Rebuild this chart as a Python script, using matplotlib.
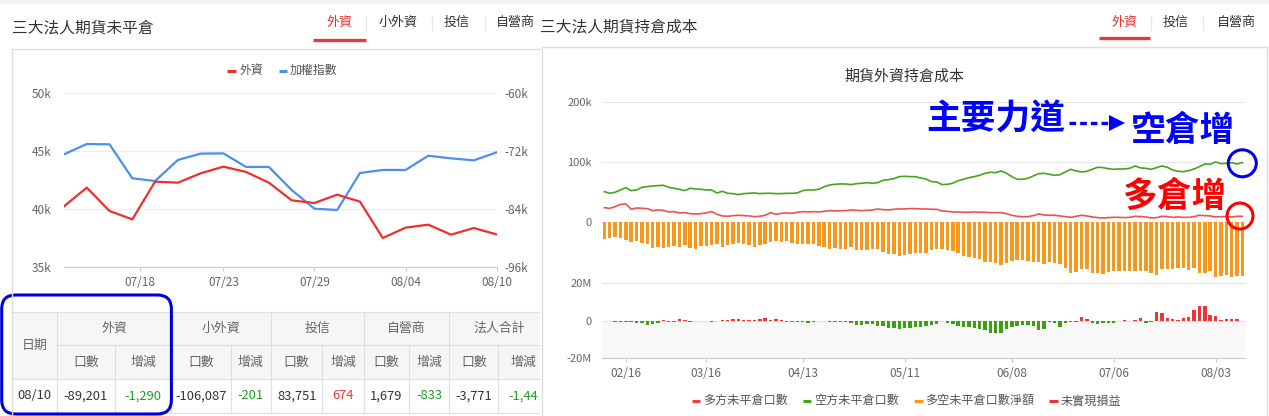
import numpy as np
import matplotlib
matplotlib.use('Agg')
import matplotlib.pyplot as plt
from matplotlib.patches import Rectangle, FancyBboxPatch, Ellipse
from matplotlib.ticker import FuncFormatter

plt.rcParams['font.family'] = ['Noto Sans CJK TC', 'DejaVu Sans']

# ---- left chart: 外資未平倉 vs 加權指數 ----
left_dates = ['07/18', '07/23', '07/29', '08/04', '08/10']
left_tick_pos = [3.35, 7, 11, 15, 19]
taiex = [44740, 45630, 45600, 42670, 42440, 44250, 44800, 44820, 43650, 43650,
         41660, 40050, 39940, 43130, 43390, 43390, 44620, 44390, 44220, 44910]
foreign_oi = [-83390, -79520, -84350, -86080, -78280, -78490, -76560, -75180, -76280, -78490,
              -82150, -82700, -80970, -82420, -89940, -87800, -87180, -89250, -87870, -89201]

# ---- table under the left chart ----
table_date = '08/10'
table_groups = ['外資', '小外資', '投信', '自營商', '法人合計']
table_oi = [-89201, -106087, 83751, 1679, -3771]
table_chg = ['-1,290', '-201', '674', '-833', '-1,44']

# ---- right chart: 期貨外資持倉成本 ----
right_dates = ['02/16', '03/16', '04/13', '05/11', '06/08', '07/06', '08/03']
right_tick_pos = [4, 19, 37, 56, 76, 95, 114]
long_oi_k = [24.4, 23.3, 26.1, 30.0, 30.6, 21.7, 23.9, 23.3, 22.8, 19.4,
             20.6, 20.0, 17.2, 17.8, 15.6, 16.1, 14.4, 13.9, 14.4, 15.6,
             17.8, 13.3, 10.6, 10.0, 11.1, 11.7, 11.1, 10.6, 9.4, 10.0,
             11.7, 16.1, 13.3, 15.0, 15.6, 15.0, 16.7, 17.8, 17.2, 17.8,
             17.2, 18.3, 19.4, 18.9, 19.4, 19.4, 20.6, 20.0, 19.4, 20.0,
             20.6, 22.2, 21.1, 20.6, 21.7, 22.2, 22.2, 22.8, 22.8, 22.2,
             22.2, 21.7, 21.7, 18.9, 18.3, 17.2, 17.2, 16.7, 16.7, 17.2,
             16.7, 16.7, 16.1, 16.1, 16.1, 14.4, 11.7, 10.0, 9.4, 9.4,
             11.1, 14.0, 12.2, 11.7, 11.7, 10.6, 9.4, 8.3, 10.0, 11.7,
             10.6, 8.9, 7.8, 7.2, 7.8, 8.3, 8.3, 7.8, 8.3, 10.0,
             9.4, 8.9, 7.2, 7.8, 10.0, 9.4, 8.3, 8.9, 8.3, 8.3,
             9.4, 11.7, 11.1, 10.6, 8.9, 9.4, 9.4, 8.9, 10.0, 10.0]
short_oi_k = [51.1, 48.3, 50.0, 53.9, 57.8, 52.8, 53.9, 58.3, 59.4, 60.6,
              61.1, 61.7, 58.3, 56.7, 55.0, 52.8, 56.7, 55.6, 55.0, 53.9,
              53.9, 48.9, 51.7, 48.3, 47.8, 46.1, 47.8, 48.3, 48.9, 47.8,
              48.3, 48.3, 47.8, 47.8, 48.3, 48.3, 48.9, 52.8, 53.9, 53.9,
              55.0, 59.4, 62.2, 63.3, 63.9, 63.9, 62.8, 64.4, 65.0, 66.1,
              65.0, 66.1, 70.0, 71.1, 72.8, 76.1, 76.7, 76.1, 76.1, 73.9,
              72.2, 67.8, 67.2, 62.8, 63.3, 65.0, 69.4, 71.7, 74.4, 76.1,
              78.3, 81.7, 83.3, 82.8, 85.6, 81.7, 76.1, 71.7, 71.7, 73.3,
              77.2, 81.0, 81.7, 80.0, 78.3, 79.4, 83.9, 88.3, 85.6, 83.9,
              85.0, 88.3, 91.7, 91.1, 89.4, 88.3, 88.9, 88.9, 90.0, 93.9,
              90.6, 90.0, 88.3, 91.1, 93.9, 91.7, 87.2, 85.0, 84.4, 86.1,
              88.9, 92.8, 97.2, 96.7, 100.6, 97.8, 98.3, 99.4, 97.2, 99.4]
net_oi_k = [-27.8, -25.6, -24.4, -25.6, -29.4, -32.2, -30.6, -35.0, -36.7, -42.2,
            -41.7, -42.8, -41.7, -39.4, -40.6, -37.8, -42.8, -44.4, -40.0, -38.9,
            -38.3, -36.1, -40.6, -38.3, -36.7, -33.9, -36.7, -37.8, -40.6, -37.8,
            -36.7, -33.3, -31.7, -32.8, -31.7, -34.4, -36.1, -36.7, -36.7, -36.7,
            -38.9, -41.7, -43.9, -42.2, -43.9, -43.9, -41.1, -46.1, -46.7, -46.1,
            -44.4, -44.4, -48.9, -52.2, -52.2, -55.6, -55.0, -53.3, -51.7, -51.1,
            -51.7, -45.6, -45.0, -43.9, -46.1, -47.8, -51.7, -56.1, -57.8, -59.4,
            -61.7, -66.1, -66.7, -67.2, -70.6, -68.3, -64.4, -63.3, -63.3, -64.4,
            -66.1, -67.0, -70.0, -66.7, -68.3, -70.0, -76.7, -83.9, -82.8, -77.2,
            -77.8, -84.4, -85.0, -85.6, -83.3, -81.1, -81.1, -81.7, -80.6, -81.1,
            -81.1, -80.6, -85.0, -87.2, -78.3, -77.8, -77.2, -75.6, -76.7, -79.4,
            -76.7, -83.9, -83.9, -81.1, -90.6, -89.4, -87.8, -90.6, -90.0, -89.2]
pnl_m = [0, 0, -0.4, -0.4, -0.9, -0.9, -1.3, -1.4, -2.0, -1.6,
         -1.1, 0.4, -0.4, -0.4, 0.7, 0.4, -0.4, 0, 0, 0,
         -0.4, 0, 0.2, 0.4, 0.7, 0.7, 0.4, 0.4, 0.4, 0.7,
         1.3, 0.5, 0.7, 0.2, -0.4, -0.4, -0.7, -0.7, -1.4, -0.4,
         -0.2, -0.2, -0.4, -0.5, -0.4, -0.7, -1.1, -2.0, -2.0, -1.8,
         -1.8, -2.7, -2.9, -3.8, -3.8, -4.3, -4.1, -3.6, -3.2, -3.2,
         -2.9, -2.3, -1.8, 0, -1.4, -1.8, -2.7, -3.2, -3.4, -4.1,
         -4.5, -5.0, -6.3, -6.4, -6.6, -4.6, -3.2, -2.9, -2.1, -2.1,
         -2.7, -4.8, -4.6, -0.7, -1.1, -3.2, -1.4, -0.7, -0.5, 1.8,
         0.7, -1.4, -1.8, -1.1, -1.1, -1.4, 0, 0.4, 0, 0.4,
         1.4, -1.1, -0.7, 4.6, 4.3, 1.4, 0.7, 0.4, 1.6, 2.1,
         5.5, 7.9, 7.9, 3.0, 2.5, 0.4, 0.7, 0.7, 0.7, 0]

RED = '#ee2f2f'
BLUE = '#4b8ff0'
GREEN = '#44a61c'
ORANGE = '#f7981d'
LABEL = '#666666'

W, H = 1269, 416
fig = plt.figure(figsize=(W / 100, H / 100), dpi=100)
fig.patch.set_facecolor('white')


def px_axes(x0, y0, x1, y1, **kw):
    # axes placed by pixel box (top-left origin)
    return fig.add_axes([x0 / W, 1 - y1 / H, (x1 - x0) / W, (y1 - y0) / H], **kw)


kfmt = FuncFormatter(lambda v, p: '0' if v == 0 else f'{v / 1000:.0f}k')

# left line chart
ax = px_axes(64, 93.3, 496.6, 267.3)
x = np.arange(len(taiex))
ax.plot(x, taiex, color=BLUE, lw=1.6, zorder=3)
ax.set_xlim(0, len(taiex) - 1)
ax.set_ylim(35000, 50000)
ax.set_yticks([35000, 40000, 45000, 50000])
ax.yaxis.set_major_formatter(kfmt)
ax.grid(axis='y', color='#ececec', lw=0.8)
ax.set_axisbelow(True)
ax.set_xticks(left_tick_pos, left_dates)
for s in ['top', 'right', 'left']:
    ax.spines[s].set_visible(False)
ax.spines['bottom'].set_color('#cccccc')
ax.tick_params(axis='y', length=0, pad=9, labelsize=8.5, labelcolor=LABEL)
ax.tick_params(axis='x', length=3, color='#cccccc', pad=3.5, labelsize=8.5, labelcolor=LABEL)

axr = ax.twinx()
axr.plot(x, foreign_oi, color=RED, lw=1.6, zorder=3)
axr.set_ylim(-96000, -60000)
axr.set_yticks([-96000, -84000, -72000, -60000])
axr.yaxis.set_major_formatter(kfmt)
for s in axr.spines.values():
    s.set_visible(False)
axr.tick_params(axis='y', length=0, pad=5.5, labelsize=8.5, labelcolor=LABEL)

# right chart, top: open interest
xi = np.arange(len(net_oi_k))
axt = px_axes(601.7, 102.3, 1245, 282.3)
axt.bar(xi, net_oi_k, width=0.64, color=ORANGE, zorder=2)
axt.plot(xi, short_oi_k, color=GREEN, lw=1.2, zorder=3)
axt.plot(xi, long_oi_k, color='#f05050', lw=1.2, zorder=3)
axt.set_xlim(-0.5, len(xi) - 0.5)
axt.set_ylim(-100, 200)
axt.set_yticks([0, 100, 200])
axt.yaxis.set_major_formatter(FuncFormatter(lambda v, p: '0' if v == 0 else f'{v:.0f}k'))
axt.grid(axis='y', color='#e8e8e8', lw=0.8)
axt.set_axisbelow(True)
axt.set_xticks([])
for s in axt.spines.values():
    s.set_visible(False)
axt.tick_params(axis='y', length=0, pad=7, labelsize=8, labelcolor=LABEL)

# right chart, bottom: unrealized P&L
axb = px_axes(601.7, 283.3, 1245, 358.3)
axb.axhspan(-20, 0, color='#f8f8f8', zorder=0)
pnl_colors = ['#ee3535' if v >= 0 else '#3e9f10' for v in pnl_m]
axb.bar(xi, pnl_m, width=0.64, color=pnl_colors, zorder=2)
axb.set_xlim(-0.5, len(xi) - 0.5)
axb.set_ylim(-20, 20)
axb.set_yticks([-20, 0, 20])
axb.yaxis.set_major_formatter(FuncFormatter(lambda v, p: '0' if v == 0 else f'{v:.0f}M'))
axb.grid(axis='y', color='#e2e2e2', lw=0.8)
axb.set_axisbelow(True)
axb.set_xticks(right_tick_pos, right_dates)
for s in ['top', 'right', 'left']:
    axb.spines[s].set_visible(False)
axb.spines['bottom'].set_color('#cccccc')
axb.tick_params(axis='y', length=0, pad=7, labelsize=8, labelcolor=LABEL)
axb.tick_params(axis='x', length=3, color='#cccccc', pad=3.5, labelsize=8.5, labelcolor=LABEL)

# table
tb = px_axes(0, 290, 540, H, zorder=5)
tb.set_xlim(0, 540)
tb.set_ylim(H, 290)
tb.axis('off')
cols = [12, 56.9, 114.8, 171.4, 230.7, 271, 322.4, 364, 408.6, 449.3, 498.3, 548.7]
rows = [311.7, 345, 379.3, 412.7]
tb.add_patch(Rectangle((12, rows[0]), 540 - 12, rows[2] - rows[0], fc='#f6f6f8', ec='none'))
lc = '#e0e0e0'
tb.plot([12, 540], [rows[0]] * 2, color=lc, lw=0.9)
tb.plot([cols[1], 540], [rows[1]] * 2, color=lc, lw=0.9)
tb.plot([12, 540], [rows[2]] * 2, color=lc, lw=0.9)
tb.plot([12, 540], [rows[3]] * 2, color=lc, lw=0.9)
for cx in cols[1:-1:2]:
    tb.plot([cx, cx], [rows[0], rows[3]], color=lc, lw=0.9)
for cx in cols[2:-1:2]:
    tb.plot([cx, cx], [rows[1], rows[3]], color=lc, lw=0.9)

tfs = 9.3
tb.text((cols[0] + cols[1]) / 2, rows[1], '日期', ha='center', va='center', fontsize=tfs, color=LABEL)
tb.text((cols[0] + cols[1]) / 2, (rows[2] + rows[3]) / 2, table_date, ha='center', va='center',
        fontsize=tfs, color='#333333')
for k, name in enumerate(table_groups):
    c0, c1, c2 = cols[1 + 2 * k], cols[2 + 2 * k], cols[3 + 2 * k]
    tb.text((c0 + c2) / 2, (rows[0] + rows[1]) / 2, name, ha='center', va='center',
            fontsize=tfs, color=LABEL, clip_on=True)
    tb.text((c0 + c1) / 2, (rows[1] + rows[2]) / 2, '口數', ha='center', va='center',
            fontsize=tfs, color=LABEL, clip_on=True)
    tb.text((c1 + c2) / 2, (rows[1] + rows[2]) / 2, '增減', ha='center', va='center',
            fontsize=tfs, color=LABEL, clip_on=True)
    tb.text((c0 + c1) / 2, (rows[2] + rows[3]) / 2, f'{table_oi[k]:,}', ha='center', va='center',
            fontsize=tfs, color='#333333', clip_on=True)
    chg_color = '#1f9e1f' if table_chg[k].startswith('-') else '#ee3333'
    tb.text((c1 + c2) / 2, (rows[2] + rows[3]) / 2, table_chg[k], ha='center', va='center',
            fontsize=tfs, color=chg_color, clip_on=True)
tb.add_patch(FancyBboxPatch((1.7, 295), 169.7, 119, boxstyle='round,pad=0,rounding_size=14',
                            fc='none', ec='#0000dd', lw=2.2, zorder=6))

# overlay: page chrome and hand annotations
ov = px_axes(0, 0, W, H, zorder=10)
ov.set_xlim(0, W)
ov.set_ylim(H, 0)
ov.axis('off')

ov.add_patch(Rectangle((0, 0), W, 4, fc='#f3f3f3', ec='none'))
border = '#dddddd'
ov.plot([11.7, 11.7], [49.3, H], color=border, lw=1)
ov.plot([11.7, 540], [49.3, 49.3], color=border, lw=1)
ov.plot([541.5, 541.5], [46.7, H], color=border, lw=1)
ov.plot([541.5, 1266.7], [46.7, 46.7], color=border, lw=1)
ov.plot([1266.7, 1266.7], [46.7, H], color=border, lw=1)

ov.text(12, 28.3, '三大法人期貨未平倉', fontsize=11.3, color='#333333', va='center')
ov.text(540, 26.7, '三大法人期貨持倉成本', fontsize=11.3, color='#333333', va='center')

for label, cx in zip(['外資', '小外資', '投信', '自營商'], [339, 398.3, 456.4, 515]):
    ov.text(cx, 22.7, label, ha='center', va='center', fontsize=9.4,
            color=RED if label == '外資' else '#333333')
for sx in [366.2, 432, 484.5]:
    ov.plot([sx, sx], [16, 30], color='#e8e8e8', lw=1)
ov.plot([313.4, 365.5], [40.3, 40.3], color='#e8383d', lw=2.4, solid_capstyle='butt')

for label, cx in zip(['外資', '投信', '自營商'], [1124.5, 1176, 1236]):
    ov.text(cx, 22.7, label, ha='center', va='center', fontsize=9.4,
            color=RED if label == '外資' else '#333333')
for sx in [1150.8, 1203.4]:
    ov.plot([sx, sx], [16, 30], color='#e8e8e8', lw=1)
ov.plot([1098.6, 1150.3], [38.3, 38.3], color='#e8383d', lw=2.4, solid_capstyle='butt')

# legends
ov.plot([227.2, 235.5], [70.7, 70.7], color=RED, lw=2.2, solid_capstyle='butt')
ov.text(239.7, 70.7, '外資', fontsize=8.6, color='#555555', va='center')
ov.plot([279.3, 286.9], [70.7, 70.7], color=BLUE, lw=2.2, solid_capstyle='butt')
ov.text(290, 70.7, '加權指數', fontsize=8.6, color='#555555', va='center')

ov.text(904, 76.7, '期貨外資持倉成本', ha='center', va='center', fontsize=10.8, color='#333333')

legend_items = [('多方未平倉口數', '#f04040', 691.7), ('空方未平倉口數', GREEN, 802.7),
                ('多空未平倉口數淨額', ORANGE, 914), ('未實現損益', '#ee3535', 1049)]
for label, c, lx in legend_items:
    ov.plot([lx, lx + 8.5], [400.7, 400.7], color=c, lw=2.2, solid_capstyle='butt')
    ov.text(lx + 11.5, 400.7, label, fontsize=8.7, color='#555555', va='center')

# hand annotations
ov.text(995.8, 119, '主要力道', ha='center', va='center', fontsize=25, fontweight='bold', color='#0000ff')
ov.text(1183.3, 131, '空倉增', ha='center', va='center', fontsize=25, fontweight='bold', color='#0000ff')
ov.text(1174, 196.7, '多倉增', ha='center', va='center', fontsize=25, fontweight='bold', color='#ff0000')
ov.plot([1069, 1111], [123.3, 123.3], color='#0000ff', lw=2.4, linestyle=(0, (2.0, 1.2)))
ov.plot([1117], [123.3], marker='>', markersize=12, color='#0000ff', markeredgewidth=0)
ov.add_patch(Ellipse((1242.3, 163.3), 28, 27, fc='none', ec='#0000ee', lw=2.2))
ov.add_patch(Ellipse((1240, 216), 26, 26, fc='none', ec='#ff0000', lw=2.2))

fig.savefig('out.png', dpi=100, facecolor='white')
